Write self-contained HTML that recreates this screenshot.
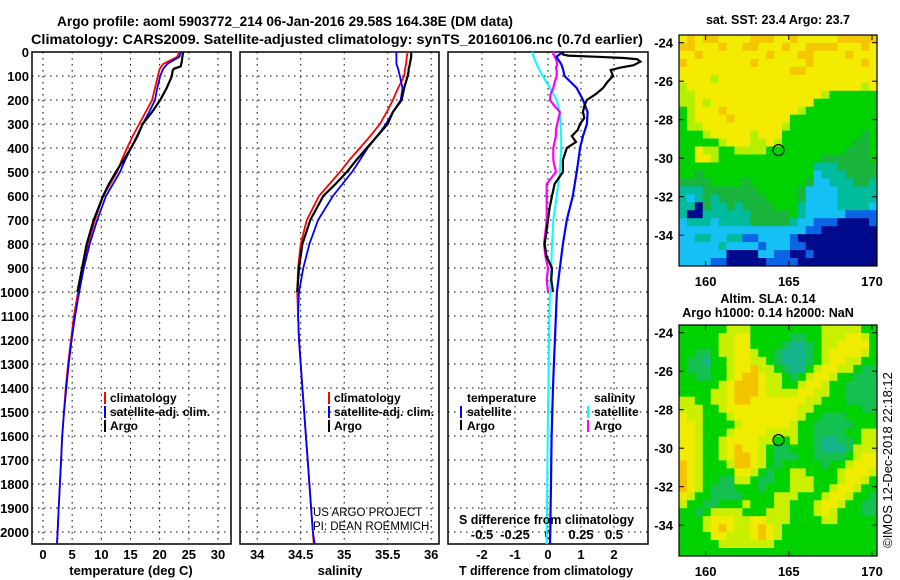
<!DOCTYPE html>
<html><head><meta charset="utf-8">
<style>
html,body{margin:0;padding:0;background:#fff;}
svg{display:block;font-family:"Liberation Sans",sans-serif;}
.b{font-weight:bold;}
</style></head>
<body>
<svg id="chart" width="900" height="580" viewBox="0 0 900 580" xmlns="http://www.w3.org/2000/svg">
<text x="57" y="26" textLength="456" lengthAdjust="spacingAndGlyphs" class="b" font-size="14">Argo profile: aoml 5903772_214 06-Jan-2016 29.58S 164.38E (DM data)</text>
<text x="31" y="44" textLength="612" lengthAdjust="spacingAndGlyphs" class="b" font-size="14">Climatology: CARS2009. Satellite-adjusted climatology: synTS_20160106.nc (0.7d earlier)</text>
<g id="g1"></g>
<g id="g2"></g>
<g id="g3"></g>
<g id="m1"></g>
<g id="m2"></g>
<text x="110" y="402" class="b" font-size="12">climatology</text>
<text x="110" y="416" class="b" font-size="12">satellite-adj. clim.</text>
<text x="110" y="430" class="b" font-size="12">Argo</text>
<rect x="104" y="392" width="2" height="12" fill="#f00"/><rect x="104" y="406" width="2" height="12" fill="#00f"/><rect x="104" y="420" width="2" height="12" fill="#000"/>
<text x="334" y="402" class="b" font-size="12">climatology</text>
<text x="334" y="416" class="b" font-size="12">satellite-adj. clim.</text>
<text x="334" y="430" class="b" font-size="12">Argo</text>
<rect x="328" y="392" width="2" height="12" fill="#f00"/><rect x="328" y="406" width="2" height="12" fill="#00f"/><rect x="328" y="420" width="2" height="12" fill="#000"/>
<text x="467" y="402" class="b" font-size="12">temperature</text>
<text x="467" y="416" class="b" font-size="12">satellite</text>
<text x="467" y="430" class="b" font-size="12">Argo</text>
<rect x="460" y="406" width="2" height="12" fill="#00f"/><rect x="460" y="420" width="2" height="10" fill="#000"/>
<text x="594" y="402" class="b" font-size="12">salinity</text>
<text x="594" y="416" class="b" font-size="12">satellite</text>
<text x="594" y="430" class="b" font-size="12">Argo</text>
<rect x="587" y="406" width="2" height="12" fill="#0ff"/><rect x="587" y="420" width="2" height="12" fill="#f0f"/>
<text x="313" y="516" font-size="11.5">US ARGO PROJECT</text>
<text x="313" y="530" font-size="11.5">PI: DEAN ROEMMICH</text>
<text x="459" y="524" textLength="175" lengthAdjust="spacingAndGlyphs" class="b" font-size="13">S difference from climatology</text>
<text x="131" y="575" text-anchor="middle" class="b" font-size="13">temperature (deg C)</text>
<text x="340" y="575" text-anchor="middle" class="b" font-size="13">salinity</text>
<text x="459" y="575" textLength="174" lengthAdjust="spacingAndGlyphs" class="b" font-size="13">T difference from climatology</text>
<text x="778" y="24" text-anchor="middle" class="b" font-size="12.5">sat. SST: 23.4 Argo: 23.7</text>
<text x="768" y="303" text-anchor="middle" class="b" font-size="12.5">Altim. SLA: 0.14</text>
<text x="768" y="317" text-anchor="middle" class="b" font-size="12.5">Argo h1000: 0.14 h2000: NaN</text>
<text transform="translate(892,460) rotate(-90)" text-anchor="middle" font-size="13">©IMOS 12-Dec-2018 22:18:12</text>
</svg>
<script>
// ---- data ----
const depthClim = [0,20,50,70,100,150,200,250,300,350,400,450,500,600,700,800,900,1000,1100,1200,1300,1400,1500,1600,1700,1800,1900,2000,2050];
const tempClim = [23.4,23.0,20.6,20.0,19.7,19.2,18.7,17.6,16.5,15.4,14.4,13.5,12.7,10.3,8.9,7.7,6.8,6.0,5.3,4.8,4.3,3.9,3.6,3.3,3.1,2.9,2.7,2.5,2.4];
const tempSat = [23.6,23.4,21.3,20.6,20.1,19.6,19.2,18.2,17.1,16.1,15.1,14.1,13.2,10.8,9.3,8.0,7.0,6.2,5.5,4.9,4.4,4.0,3.6,3.3,3.1,2.9,2.7,2.5,2.4];
const salClim = [35.73,35.72,35.71,35.70,35.69,35.62,35.56,35.49,35.41,35.30,35.18,35.06,34.95,34.71,34.57,34.50,34.47,34.46,34.47,34.48,34.50,34.52,34.54,34.56,34.58,34.60,34.62,34.64,34.65];
const salSat = [35.60,35.60,35.60,35.62,35.64,35.67,35.65,35.56,35.48,35.38,35.27,35.18,35.09,34.87,34.70,34.60,34.53,34.48,34.47,34.48,34.50,34.52,34.54,34.56,34.58,34.60,34.62,34.64,34.66];
const depthArgo = [0,20,40,60,70,80,100,150,200,250,300,350,400,450,500,550,600,700,800,900,1000];
const tempArgo = [24.0,23.9,23.8,23.6,22.4,22.2,22.1,21.2,20.1,18.7,17.1,16.2,15.1,13.8,12.5,11.3,10.3,8.7,7.5,6.7,5.9];
const salArgo = [35.77,35.77,35.76,35.75,35.74,35.74,35.73,35.69,35.66,35.56,35.50,35.38,35.26,35.14,35.03,34.90,34.76,34.61,34.52,34.48,34.46];
const dTSat = [0.45,0.25,0.40,0.45,0.50,0.87,1.06,1.20,1.18,1.06,0.97,0.92,0.87,0.75,0.57,0.45,0.36,0.27,0.24,0.21,0.18,0.15,0.13,0.11,0.10,0.09,0.08,0.07,0.06];
const dSSat = [-0.12,-0.11,-0.086,-0.07,-0.04,0.015,0.066,0.09,0.095,0.10,0.10,0.095,0.09,0.066,0.04,0.03,0.025,0.015,0.01,0.008,0.005,0.003,0.0,-0.002,-0.004,-0.006,-0.008,-0.01,-0.01];
const depthDiffArgo = [0,10,15,20,25,30,40,55,65,75,100,125,150,175,200,225,250,275,300,325,350,375,400,450,500,550,600,650,700,750,800,850,900,950,1000];
const dTArgo = [0.45,0.45,0.6,1.5,2.3,2.7,2.8,2.6,2.2,1.9,1.97,1.8,1.67,1.45,1.18,1.1,1.06,1.1,0.97,0.9,0.72,0.85,0.57,0.45,0.45,0.2,0.12,0.05,0.0,-0.05,-0.1,-0.05,0.12,0.1,0.15];
const dSArgo = [0.04,0.04,0.05,0.05,0.06,0.06,0.066,0.07,0.06,0.066,0.066,0.05,0.04,0.02,0.015,0.05,0.09,0.08,0.07,0.06,0.06,0.05,0.04,0.04,0.06,-0.01,-0.01,-0.01,-0.01,-0.02,-0.03,-0.02,0.0,-0.01,0.0];
const depthTicks = [0,100,200,300,400,500,600,700,800,900,1000,1100,1200,1300,1400,1500,1600,1700,1800,1900,2000];
const tempTicks = [0,5,10,15,20,25,30];
const salTicks = [34,34.5,35,35.5,36];
const salTickLabels = ["34","34.5","35","35.5","36"];
const tDiffTicks = [-2,-1,0,1,2];
const sDiffTicks = [-0.5,-0.25,0,0.25,0.5];
const sDiffTickLabels = ["-0.5","-0.25","0","0.25","0.5"];
const latTicks = [-24,-26,-28,-30,-32,-34];
const lonTicks = [160,165,170];
const argoLon = 164.38, argoLat = -29.58;
const sstGrid = [
"7878877778887787777788888","8877787788777877888877787","7787777777787778877778777","8777777778777777877777787",
"7777777777777788777777777","7777677777777777777777777","6777777777777777777777767","6677777777777777776555555",
"6676777777777777755555555","5677787777777776555555555","5677778777777755555555555","5667777777777655555555555",
"5556777776777555555555545","5555567776676555555555445","5576655666655555555554445","5577655555555555554444445",
"5555555555555555533344444","5545555555555555523334444","4444555545555555422333443","3334444444555554222233333",
"3234344444455554222233333","3304334344445553222233332","3003333334444453222221111","2333233334444432211100001",
"2222222222222222110000000","2233223311222210000000000","2222232222122211000000000","2222220000221100100000000",
"2222110000011110000000000"];
const slaGrid = [
"5555556665555555556666655","5555566775555544556667765","5555566775555433456677775","5544566776554333456777765",
"5443556776654333456776655","5444556778665433567766544","5544556788766545677655444","5555567888766556776554444",
"5555667888766667766554444","6655667887777777665554444","6665567777777776655555544","7665556777777776554445555",
"7765555677777765544444555","7765556777766665544445566","7765567777665565543344566","7765567877654455543334666",
"7765567887654445544445677","8765556887654555554556777","8765555776545566555567776","8765544665445566655567765",
"8765444555455566655677655","7655444455556665556776554","6554455565556655567765544","5545666655566655567655544",
"5556777667766655556655555","5556787667876555555555555","5555776667876555555555555","5555566666665555555555555",
"5555555555555555555555555"];
const sstColors = ["#000a8c","#0a64e6","#14c0f4","#00bc9c","#18b43c","#00d200","#b4f000","#f4ec00","#f4c800"];
const slaColors = ["#00a08c","#00a08c","#00a08c","#14b48c","#14c050","#00d200","#c8f000","#f0ec00","#f4c400"];

const NS="http://www.w3.org/2000/svg";
function el(tag, attrs, parent){const e=document.createElementNS(NS,tag);for(const k in attrs)e.setAttribute(k,attrs[k]);parent.appendChild(e);return e;}
const PY0=52, PY1=544;
const yD = d => PY0 + d*(PY1-PY0)/2050;
const xT = t => 43 + t*5.833;
const xS = s => 300.7 + (s-34.5)*87;
const xDT = v => 548 + v*33;
const xDS = v => 548 + v*132;

function frame(g, x0, x1, xticks, xfn, name){
  const r=el('rect',{x:x0,y:PY0,width:x1-x0,height:PY1-PY0,fill:'none',stroke:'#000','stroke-width':1.5},g);
  
  
  depthTicks.forEach(d=>{ if(d>0) el('line',{x1:x0,x2:x1,y1:yD(d),y2:yD(d),stroke:'#000','stroke-width':1,'stroke-dasharray':'1.5,4.5'},g); });
  xticks.forEach(v=>{ const x=xfn(v); el('line',{x1:x,x2:x,y1:PY0,y2:PY1,stroke:'#000','stroke-width':1,'stroke-dasharray':'1.5,4.5'},g); });
}
function line(g, xs, ds, xfn, color, w, name){
  const pts = xs.map((v,i)=>xfn(v).toFixed(1)+','+yD(ds[i]).toFixed(1)).join(' ');
  const p=el('polyline',{points:pts,fill:'none',stroke:color,'stroke-width':w},g);
  
  
}
function label(g, x, y, txt, anchor, size, name){
  const t=el('text',{x:x,y:y,'text-anchor':anchor,'font-size':size,'font-weight':'bold'},g);
  t.textContent=txt;
  
  
}

const g1=document.getElementById('g1');
frame(g1,32,231,tempTicks,xT,'temperature-panel');
depthTicks.forEach(d=>label(g1,29,yD(d)+5,String(d),'end',13,'depth-tick-label'));
tempTicks.forEach(t=>label(g1,xT(t),559,String(t),'middle',13,'temperature-tick-label'));
line(g1,tempClim,depthClim,xT,'#f00',1.8,'temperature-climatology-line');
line(g1,tempSat,depthClim,xT,'#00f',1.8,'temperature-satellite-line');
line(g1,tempArgo,depthArgo,xT,'#000',2.2,'temperature-argo-line');

const g2=document.getElementById('g2');
frame(g2,240,439,salTicks,xS,'salinity-panel');
salTicks.forEach((s,i)=>label(g2,xS(s),559,salTickLabels[i],'middle',13,'salinity-tick-label'));
line(g2,salClim,depthClim,xS,'#f00',1.8,'salinity-climatology-line');
line(g2,salSat,depthClim,xS,'#00f',1.8,'salinity-satellite-line');
line(g2,salArgo,depthArgo,xS,'#000',2.2,'salinity-argo-line');

const g3=document.getElementById('g3');
frame(g3,448,648,tDiffTicks,xDT,'difference-panel');
tDiffTicks.forEach(v=>label(g3,xDT(v),559,String(v),'middle',13,'t-diff-tick-label'));
sDiffTicks.forEach((v,i)=>label(g3,xDS(v),539,sDiffTickLabels[i],'middle',13,'s-diff-tick-label'));
line(g3,dSSat,depthClim,xDS,'#0ff',2,'s-diff-satellite-line');
line(g3,dSArgo,depthDiffArgo,xDS,'#f0f',2.2,'s-diff-argo-line');
line(g3,dTSat,depthClim,xDT,'#00f',2.2,'t-diff-satellite-line');
line(g3,dTArgo,depthDiffArgo,xDT,'#000',2.2,'t-diff-argo-line');

function drawMap(gid, top, grid, colors, name){
  const g=document.getElementById(gid);
  const x0=679, x1=877, y0=top, y1=top+231;
  const lon0=158.4, lon1=170.3;
  const lat0=-23.6, lat1=-35.6;
  const xL = lon => x0 + (lon-lon0)*(x1-x0)/(lon1-lon0);
  const yL = lat => y0 + (lat-lat0)*(y1-y0)/(lat1-lat0);
  const rows=grid.length, cols=grid[0].length;
  const cw=(x1-x0)/cols, ch=(y1-y0)/rows;
  grid.forEach((row,r)=>{
    for(let c=0;c<cols;c++){
      const cell=el('rect',{x:(x0+c*cw).toFixed(2),y:(y0+r*ch).toFixed(2),width:(cw+0.5).toFixed(2),height:(ch+0.5).toFixed(2),fill:colors[+row[c]]},g);
      
      
    }
  });
  el('rect',{x:x0,y:y0,width:x1-x0,height:y1-y0,fill:'none',stroke:'#000','stroke-width':1.2},g);
  latTicks.forEach(l=>{ const y=yL(l); el('line',{x1:x0,x2:x0+5,y1:y,y2:y,stroke:'#000'},g); el('line',{x1:x1-5,x2:x1,y1:y,y2:y,stroke:'#000'},g);
    label(g,673,y+5,String(l),'end',13,name+'-lat-label'); });
  lonTicks.forEach(l=>{ const x=xL(l); el('line',{x1:x,x2:x,y1:y1-5,y2:y1,stroke:'#000'},g); el('line',{x1:x,x2:x,y1:y0,y2:y0+5,stroke:'#000'},g);
    label(g,x,y1+20,String(l),'middle',13,name+'-lon-label'); });
  const m=el('circle',{cx:xL(argoLon),cy:yL(argoLat),r:5.5,fill:'none',stroke:'#000','stroke-width':1.2},g);
  
  
}
drawMap('m1',35,sstGrid,sstColors,'sst-map');
drawMap('m2',325,slaGrid,slaColors,'sla-map');
</script>
</body></html>
